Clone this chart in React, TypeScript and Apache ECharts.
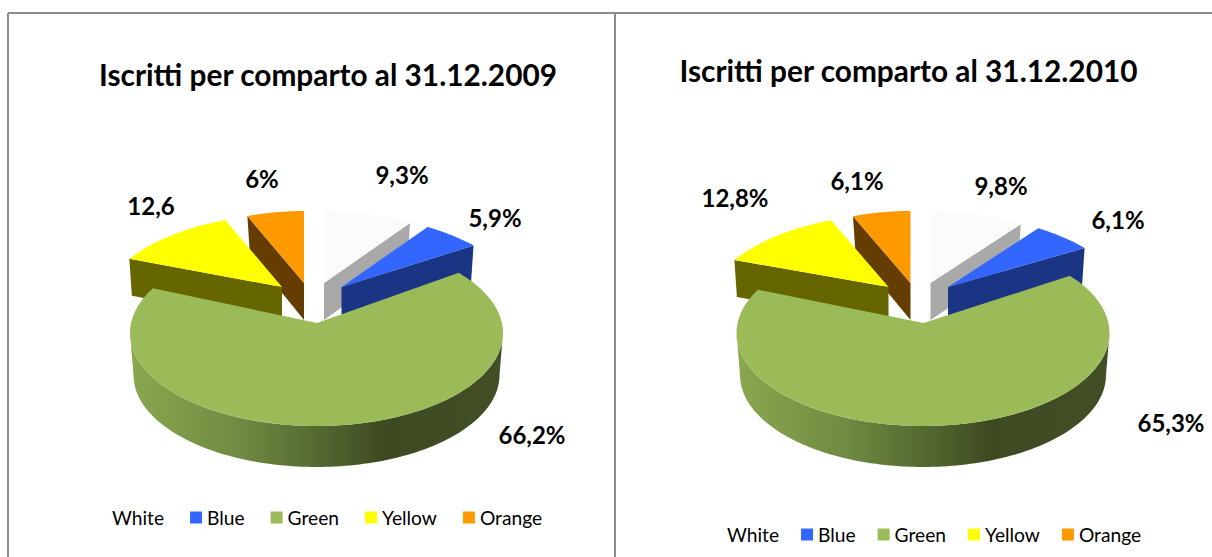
import React, { useEffect, useRef } from "react";
import * as echarts from "echarts";

const categories = ["White", "Blue", "Green", "Yellow", "Orange"];
const values2009 = [9.3, 5.9, 66.2, 12.6, 6];
const values2010 = [9.8, 6.1, 65.3, 12.8, 6.1];
const labels2009 = ["9,3%", "5,9%", "66,2%", "12,6", "6%"];
const labels2010 = ["9,8%", "6,1%", "65,3%", "12,8%", "6,1%"];
const title2009 = "Iscritti per comparto al 31.12.2009";
const title2010 = "Iscritti per comparto al 31.12.2010";

const topColours = ["#fbfbfb", "#3366ff", "#9bbb59", "#ffff00", "#ff9900"];
const wallColours = ["#a9a9a9", "#1a3583", "#9bbb59", "#666600", "#663d00"];
const legendColours = ["#ffffff", "#3366ff", "#9bbb59", "#ffff00", "#ff9900"];
const FONT = "Lato, Carlito, Calibri, sans-serif";

// Layout (pixels): explosion vectors per slice, relative to the main slice apex
const explode: number[][] = [[7.5, -40], [25, -36], [0, 0], [-34.5, -36], [-12.5, -40]];
const drawOrder = [4, 0, 3, 1, 2];

const charts = [
  {
    values: values2009, labels: labels2009, cx: 316.5,
    labelPos: [[402, 174], [495, 217], [532, 434], [151, 205], [262, 178]],
    title: title2009, titleX: 323, titleY: 71, legendLeft: 95, legendTop: 508, legendGap: 26,
  },
  {
    values: values2010, labels: labels2010, cx: 923,
    labelPos: [[1001, 185], [1118, 219], [1171, 422], [735, 197], [857, 180]],
    title: title2010, titleX: 903.5, titleY: 67, legendLeft: 710, legendTop: 525, legendGap: 22,
  },
];

const CY = 333, RX = 186.5, RY = 93, APEX_UP = 10;
const BOT_CY = 375, BOT_RX = 183, BOT_RY = 92;
const SX = 159, SY = 72, DEPTH = 37, SHRINK = 2.5, PERSPECTIVE = 0.14;

function angleRange(values: number[], i: number): [number, number] {
  const total = values.reduce((a, b) => a + b, 0);
  const before = values.slice(0, i).reduce((a, b) => a + b, 0);
  return [(before / total) * 2 * Math.PI, ((before + values[i]) / total) * 2 * Math.PI];
}

function mainPoint(cx: number, theta: number): number[] {
  // ray from the apex, which sits above the ellipse centre, out to the ellipse
  const ay = -APEX_UP / RY;
  const dx = Math.sin(theta), dy = -Math.cos(theta);
  const ad = ay * dy;
  const t = -ad + Math.sqrt(ad * ad + 1 - ay * ay);
  return [cx + RX * t * dx, CY + RY * (ay + t * dy)];
}

function makeRenderItem(chart: (typeof charts)[number], i: number) {
  return () => {
    const [a0, a1] = angleRange(chart.values, i);
    const children: any[] = [];
    const [lx, ly] = chart.labelPos[i];
    if (i === 2) {
      const pts: number[][] = [];
      const wall: number[][] = [];
      const steps = 120;
      for (let k = 0; k <= steps; k++) {
        const p = Math.PI / 2 + (Math.PI * k) / steps;
        wall.push([chart.cx + RX * Math.sin(p), CY - RY * Math.cos(p)]);
      }
      for (let k = steps; k >= 0; k--) {
        const p = Math.PI / 2 + (Math.PI * k) / steps;
        wall.push([chart.cx + BOT_RX * Math.sin(p), BOT_CY - BOT_RY * Math.cos(p)]);
      }
      pts.push([chart.cx + 0.5, CY - APEX_UP]);
      for (let k = 0; k <= steps; k++) pts.push(mainPoint(chart.cx, a0 + ((a1 - a0) * k) / steps));
      children.push({
        type: "polygon",
        shape: { points: wall },
        style: {
          fill: new echarts.graphic.LinearGradient(0, 0, 1, 0, [
            { offset: 0, color: "#89a84f" },
            { offset: 0.3, color: "#6f8a42" },
            { offset: 0.68, color: "#3e4a22" },
            { offset: 1, color: "#424e25" },
          ]),
        },
      });
      children.push({ type: "polygon", shape: { points: pts }, style: { fill: topColours[i] } });
    } else {
      const ax = chart.cx + explode[i][0];
      const ay = CY - APEX_UP + explode[i][1];
      const pt = (t: number) => {
        const f = 1 + PERSPECTIVE * (0.7 - Math.cos(t));
        return [ax + SX * f * Math.sin(t), ay - SY * Math.cos(t)];
      };
      const edge = (a0 + a1) / 2 < Math.PI ? a1 : a0;
      const e = pt(edge);
      const toCentre = e[0] > ax ? -SHRINK : SHRINK;
      children.push({
        type: "polygon",
        shape: { points: [[ax, ay], e, [e[0] + toCentre, e[1] + DEPTH], [ax, ay + DEPTH]] },
        style: { fill: wallColours[i] },
      });
      const pts: number[][] = [[ax, ay]];
      const steps = 40;
      for (let k = 0; k <= steps; k++) pts.push(pt(a0 + ((a1 - a0) * k) / steps));
      children.push({ type: "polygon", shape: { points: pts }, style: { fill: topColours[i] } });
    }
    children.push({
      type: "text",
      style: {
        text: chart.labels[i], x: lx, y: ly, align: "center", verticalAlign: "middle",
        fontFamily: FONT, fontWeight: "bold", fontSize: 24, fill: "#000000",
      },
    });
    return { type: "group", children };
  };
}

const series: any[] = [];
charts.forEach((chart) => {
  drawOrder.forEach((i) => {
    series.push({
      type: "custom",
      name: categories[i],
      coordinateSystem: "none",
      itemStyle: { color: legendColours[i] },
      data: [[chart.values[i]]],
      renderItem: makeRenderItem(chart, i),
      silent: true,
    });
  });
});

const line = (x1: number, y1: number, x2: number, y2: number) => ({
  type: "line",
  shape: { x1, y1, x2, y2 },
  style: { stroke: "#8c8c8c", lineWidth: 2 },
});

export default function App() {
  const ref = useRef<HTMLDivElement>(null);
  useEffect(() => {
    const c = echarts.init(ref.current!, undefined, { renderer: "svg" });
    c.setOption({
      animation: false,
      backgroundColor: "#ffffff",
      title: charts.map((ch) => ({
        text: ch.title,
        left: ch.titleX,
        top: ch.titleY - 17,
        textAlign: "center",
        textStyle: { fontFamily: FONT, fontWeight: "bold", fontSize: 29.8, color: "#000000" },
      })),
      legend: charts.map((ch) => ({
        data: categories,
        left: ch.legendLeft,
        top: ch.legendTop,
        orient: "horizontal",
        selectedMode: false,
        icon: "rect",
        itemWidth: 12,
        itemHeight: 12,
        itemGap: ch.legendGap,
        padding: 0,
        textStyle: { fontFamily: FONT, fontSize: 19.2, color: "#000000" },
      })),
      graphic: [line(8, 13, 1212, 13), line(8, 13, 8, 557), line(615, 13, 615, 557)],
      series,
    });
    return () => c.dispose();
  }, []);
  return <div ref={ref} style={{ position: "absolute", left: 0, top: 0, width: 1212, height: 557 }} />;
}
